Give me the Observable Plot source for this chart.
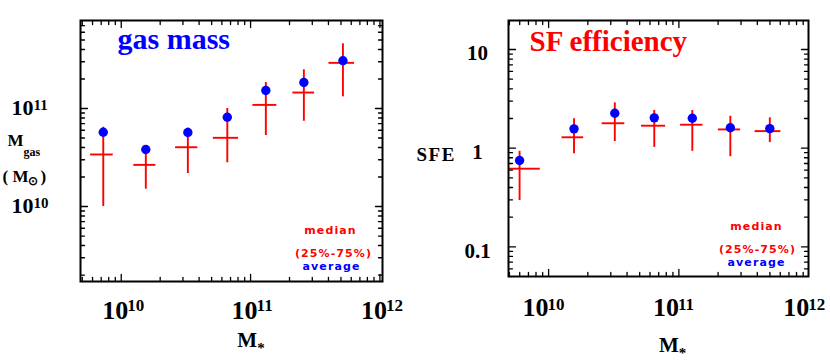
<!DOCTYPE html>
<html><head><meta charset="utf-8">
<script src="https://cdn.jsdelivr.net/npm/d3@7"></script>
<script src="https://cdn.jsdelivr.net/npm/@observablehq/plot@0.6"></script>
<style>
html,body{margin:0;padding:0;background:#fff;}
#row{display:flex;width:830px;height:361px;}
#row svg{display:block;flex:none;}
</style></head><body><div id="row"></div>
<script>
// ---- left panel: gas mass (log10 values) ----
const gasMassLog    = [9.861, 10.190, 10.515, 10.820, 11.118, 11.412, 11.714];
const gasBinLoLog   = [9.763, 10.097, 10.420, 10.712, 11.018, 11.327, 11.606];
const gasBinHiLog   = [9.938, 10.268, 10.592, 10.907, 11.203, 11.495, 11.804];
const gasAverageLog = [10.758, 10.582, 10.755, 10.911, 11.184, 11.265, 11.487];
const gasMedianLog  = [10.531, 10.425, 10.605, 10.701, 11.037, 11.163, 11.466];
const gasQ25Log     = [10.000, 10.177, 10.337, 10.446, 10.724, 10.870, 11.119];
const gasQ75Log     = [10.809, 10.575, 10.800, 11.000, 11.265, 11.395, 11.660];

// ---- right panel: SF efficiency ----
const sfeMassLog  = [9.777, 10.195, 10.508, 10.811, 11.103, 11.395, 11.698];
const sfeBinLoLog = [9.700, 10.103, 10.411, 10.713, 11.013, 11.303, 11.585];
const sfeBinHiLog = [9.936, 10.269, 10.585, 10.898, 11.185, 11.474, 11.783];
const sfeAverage  = [0.75, 1.57, 2.26, 2.03, 2.01, 1.61, 1.58];
const sfeMedian   = [0.62, 1.29, 1.79, 1.69, 1.73, 1.55, 1.49];
const sfeQ25      = [0.295, 0.877, 1.17, 1.02, 0.93, 0.82, 1.14];
const sfeQ75      = [0.93, 1.99, 2.88, 2.41, 2.41, 2.11, 2.03];

// ---- tick labels / texts ----
const massTickExps  = [10, 11, 12];
const gasTickExps   = [10, 11];
const sfeTicks      = [0.1, 1, 10];
const sfeTickLabels = ["0.1", "1", "10"];
const legendLines   = ["median", "(25%-75%)", "average"];
const legendColors  = ["red", "red", "blue"];

const SERIF = "'Liberation Serif','Times New Roman',serif";
const SANS = "'DejaVu Sans',Verdana,sans-serif";
const tickShape = {draw(ctx, l) { ctx.moveTo(0, 0); ctx.lineTo(0, -l); }};

function logTicks([lo, hi], major) {
  const out = [];
  for (let e = Math.floor(Math.log10(lo)); e <= Math.ceil(Math.log10(hi)); e++) {
    for (let k = 1; k <= 9; k++) {
      const v = k * 10 ** e;
      if (v >= lo * 0.9999 && v <= hi * 1.0001 && ((k === 1) === major)) out.push(v);
    }
  }
  return out;
}

function frameTicks(xDom, yDom) {
  const marks = [];
  for (const major of [true, false]) {
    const len = major ? 7 : 4;
    const xs = logTicks(xDom, major), ys = logTicks(yDom, major);
    const common = {length: len, anchor: "start", shape: tickShape, stroke: "black", strokeWidth: 1.3};
    marks.push(Plot.vector(xs, {x: d => d, frameAnchor: "bottom", rotate: 0, ...common}));
    marks.push(Plot.vector(xs, {x: d => d, frameAnchor: "top", rotate: 180, ...common}));
    marks.push(Plot.vector(ys, {y: d => d, frameAnchor: "left", rotate: 90, ...common}));
    marks.push(Plot.vector(ys, {y: d => d, frameAnchor: "right", rotate: -90, ...common}));
  }
  return marks;
}

function legend(dxs, dys) {
  return legendLines.map((t, i) => Plot.text([t], {
    frameAnchor: "bottom-right", text: d => d, dx: dxs[i], dy: dys[i],
    lineAnchor: "bottom", textAnchor: "middle", fill: legendColors[i],
    fontFamily: SANS, fontWeight: "bold", fontSize: 11
  }));
}

function dataMarks(rows) {
  return [
    Plot.ruleX(rows, {x: "mass", y1: "q25", y2: "q75", stroke: "red", strokeWidth: 1.9}),
    Plot.ruleY(rows, {y: "med", x1: "lo", x2: "hi", stroke: "red", strokeWidth: 1.9}),
    Plot.dot(rows, {x: "mass", y: "avg", r: 4.7, fill: "blue", stroke: "none"})
  ];
}

function xLabels(dxBase, dyBase, dyExp) {
  const bold = {fontFamily: SERIF, fontWeight: "bold", fill: "black", lineAnchor: "bottom", frameAnchor: "bottom"};
  return [
    Plot.text(massTickExps, {x: e => 10 ** e, text: () => "10", textAnchor: "middle", dx: dxBase, dy: dyBase, fontSize: 26, ...bold}),
    Plot.text(massTickExps, {x: e => 10 ** e, text: e => String(e), textAnchor: "start", dx: dxBase + 12, dy: dyExp, fontSize: 17, ...bold})
  ];
}

function xTitle(dx, dyM, dyStar) {
  const bold = {fontFamily: SERIF, fontWeight: "bold", fill: "black", lineAnchor: "bottom", frameAnchor: "bottom"};
  return [
    Plot.text(["M"], {text: d => d, textAnchor: "end", dx, dy: dyM, fontSize: 21, ...bold}),
    Plot.text(["*"], {text: d => d, textAnchor: "start", dx, dy: dyStar, fontSize: 15, ...bold})
  ];
}

// ---------- left panel ----------
const gasRows = gasMassLog.map((m, i) => ({
  mass: 10 ** m, lo: 10 ** gasBinLoLog[i], hi: 10 ** gasBinHiLog[i],
  avg: 10 ** gasAverageLog[i], med: 10 ** gasMedianLog[i],
  q25: 10 ** gasQ25Log[i], q75: 10 ** gasQ75Log[i]
}));
const gasX = [10 ** 9.685, 10 ** 12.02];
const gasY = [10 ** 9.235, 10 ** 11.898];
const boldL = {fontFamily: SERIF, fontWeight: "bold", fill: "black", lineAnchor: "bottom", frameAnchor: "left"};

const left = Plot.plot({
  width: 415, height: 361,
  marginLeft: 80, marginRight: 33, marginTop: 20, marginBottom: 80,
  x: {type: "log", domain: gasX, axis: null},
  y: {type: "log", domain: gasY, axis: null},
  style: {background: "white", overflow: "visible"},
  marks: [
    ...dataMarks(gasRows),
    ...frameTicks(gasX, gasY),
    Plot.frame({stroke: "black", strokeWidth: 2}),
    Plot.text(gasTickExps, {y: e => 10 ** e, text: () => "10", textAnchor: "end", dx: -47, dy: 6, fontSize: 22, ...boldL}),
    Plot.text(gasTickExps, {y: e => 10 ** e, text: e => String(e), textAnchor: "start", dx: -47, dy: 1, fontSize: 15, ...boldL}),
    Plot.text(["M"], {text: d => d, textAnchor: "start", dx: -73, dy: -5.5, fontSize: 17, ...boldL}),
    Plot.text(["gas"], {text: d => d, textAnchor: "start", dx: -57, dy: 4.5, fontSize: 12, ...boldL}),
    Plot.text(["( M"], {text: d => d, textAnchor: "start", dx: -78, dy: 30.5, fontSize: 17, ...boldL}),
    Plot.text(["⊙"], {text: d => d, textAnchor: "start", dx: -53, dy: 33.5, fontSize: 12, ...boldL}),
    Plot.text([")"], {text: d => d, textAnchor: "start", dx: -40, dy: 30.5, fontSize: 17, ...boldL}),
    ...xLabels(-6, 37, 29),
    ...xTitle(25.7, 65.7, 71),
    Plot.text(["gas mass"], {frameAnchor: "top-left", text: d => d, textAnchor: "start", lineAnchor: "bottom",
      dx: 37, dy: 28, fontSize: 30, fontWeight: "bold", fontFamily: SERIF, fill: "blue"}),
    ...legend([-52, -49, -51], [-48, -25, -12])
  ]
});

// ---------- right panel ----------
const sfeRows = sfeMassLog.map((m, i) => ({
  mass: 10 ** m, lo: 10 ** sfeBinLoLog[i], hi: 10 ** sfeBinHiLog[i],
  avg: sfeAverage[i], med: sfeMedian[i], q25: sfeQ25[i], q75: sfeQ75[i]
}));
const sfeX = [10 ** 9.692, 10 ** 11.995];
const sfeY = [10 ** -1.30, 10 ** 1.294];

const right = Plot.plot({
  width: 415, height: 361,
  marginLeft: 93, marginRight: 22, marginTop: 20, marginBottom: 85,
  x: {type: "log", domain: sfeX, axis: null},
  y: {type: "log", domain: sfeY, axis: null},
  style: {background: "white", overflow: "visible"},
  marks: [
    ...dataMarks(sfeRows),
    ...frameTicks(sfeX, sfeY),
    Plot.frame({stroke: "black", strokeWidth: 2}),
    Plot.text(sfeTicks, {y: d => d, text: (d, i) => sfeTickLabels[i], textAnchor: "middle", dx: -31, dy: 10.7, fontSize: 21, ...boldL}),
    Plot.text(["SFE"], {text: d => d, textAnchor: "start", dx: -92, dy: 12, fontSize: 19, ...boldL}),
    ...xLabels(-13, 39, 33),
    ...xTitle(20.3, 75.7, 81),
    Plot.text(["SF efficiency"], {frameAnchor: "top-left", text: d => d, textAnchor: "start", lineAnchor: "bottom",
      dx: 21, dy: 30, fontSize: 29, fontWeight: "bold", fontFamily: SERIF, fill: "red"}),
    ...legend([-52, -51, -52], [-47, -24, -11])
  ]
});

const row = document.getElementById("row");
row.appendChild(left);
row.appendChild(right);

// letter spacing for the wide legend / SFE lettering
for (const svg of [left, right]) {
  d3.select(svg).selectAll("text").each(function () {
    const t = this.textContent;
    if (legendLines.includes(t)) this.setAttribute("letter-spacing", "1.1px");
    if (t === "SFE") this.setAttribute("letter-spacing", "1.5px");
  });
}
</script>
</body></html>
